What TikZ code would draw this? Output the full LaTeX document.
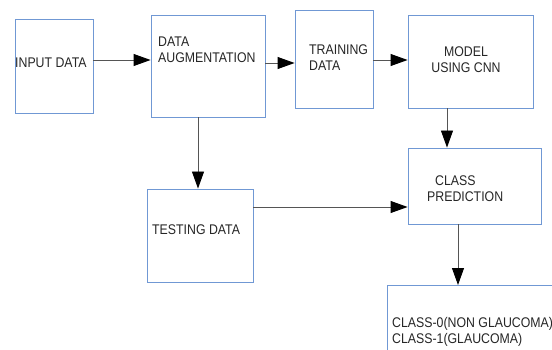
\documentclass[tikz,border=0pt]{standalone}
\usepackage{fontspec}
\setmainfont{Liberation Sans}[FakeStretch=0.88]
\usetikzlibrary{arrows.meta}

\definecolor{boxblue}{HTML}{7098D4}
\definecolor{linegray}{HTML}{555555}

\tikzset{
    block/.style={draw=boxblue, line width=0.9pt, rectangle, inner sep=0pt},
    txt/.style={inner sep=0pt, font=\fontsize{14}{16}\selectfont, text=black!85},
    arr/.style={draw=linegray, line width=0.9pt,
        -{Triangle[length=17pt, width=12pt, color=black]}},
}

\begin{document}
\begin{tikzpicture}[x=1pt, y=-1pt]
        \useasboundingbox (0, 0) rectangle (552, 350);
        \fill[white] (0, 0) rectangle (552, 350);
        \clip (0, 0) rectangle (552, 350);

        % boxes: name / centre x / centre y / width / height
        \foreach \name/\x/\y/\w/\h in {inp/54/66/78/94, aug/208/66/114/102,
                train/334/59/78/98, model/470.5/61.5/125/93,
                test/200/235.5/106/93, pred/474.5/186/133/76} {
            \node[block, minimum width=\w pt, minimum height=\h pt] (\name) at (\x, \y) {};
        }
        \node[block, anchor=north west, minimum width=200pt, minimum height=100pt] (out) at (387, 285) {};

        % labels (base of a two-line label is its last line)
        \node[txt, anchor=base west] (inp-t) at (15, 68) {INPUT DATA};
        \node[txt, anchor=base west, align=left] (aug-t) at (158, 63) {DATA\\AUGMENTATION};
        \node[txt, anchor=base west, align=left] (train-t) at (309, 71) {TRAINING\\DATA};
        \node[txt, anchor=base, align=center] (model-t) at (466, 73) {MODEL\\USING CNN};
        \node[txt, anchor=base west, align=left] (pred-t) at (427, 201) {\hspace{8pt}CLASS\\PREDICTION};
        \node[txt, anchor=base west] (test-t) at (152, 234) {TESTING DATA};
        \node[txt, anchor=base west, align=left] (out-t) at (392, 343) {CLASS-0(NON GLAUCOMA)\\CLASS-1(GLAUCOMA)};

        % flow
        \draw[arr] ([yshift=6pt]inp.east) -- ([yshift=6pt]aug.west);
        \draw[arr] (aug.east |- 0, 63) -- (train.west |- 0, 63);
        \draw[arr] (train.east |- 0, 60) -- (model.west |- 0, 60);
        \draw[arr] (aug.south -| 198, 0) -- (test.north -| 198, 0);
        \draw[arr] (model.south -| 447, 0) -- (pred.north -| 447, 0);
        \draw[arr] (test.east |- 0, 207) -- (pred.west |- 0, 207);
        \draw[arr] (pred.south -| 458, 0) -- (out.north -| 458, 0);
    \end{tikzpicture}
\end{document}
